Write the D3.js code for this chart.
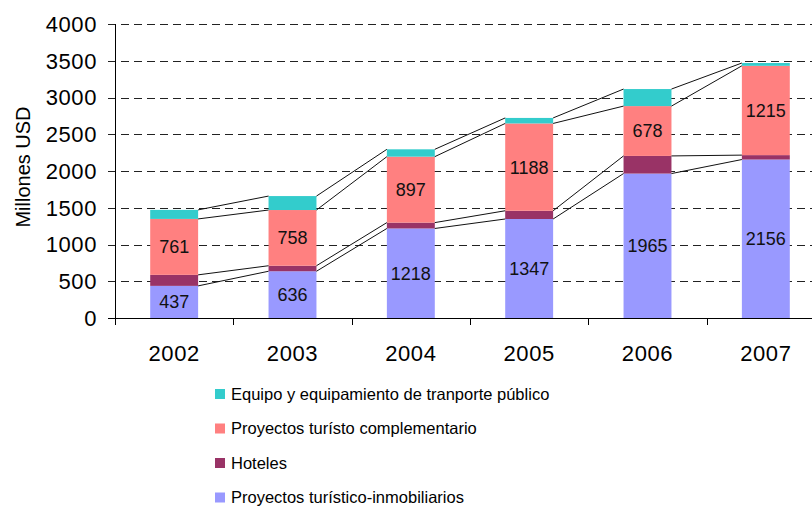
<!DOCTYPE html>
<html>
<head>
<meta charset="utf-8">
<script src="https://cdn.jsdelivr.net/npm/d3@7"></script>
<style>
  body { margin: 0; background: #fff; }
  svg { display: block; font-family: "Liberation Sans", Arial, sans-serif; }
</style>
</head>
<body>
<svg id="chart"></svg>
<script>
var years = ["2002", "2003", "2004", "2005", "2006", "2007"];
var inmobiliarios = [437, 636, 1218, 1347, 1965, 2156];
var hoteles = [150, 75, 80, 112, 240, 60];
var complementario = [761, 758, 897, 1188, 678, 1215];
var transporte = [123, 190, 100, 75, 232, 38];
var yTicks = [0, 500, 1000, 1500, 2000, 2500, 3000, 3500, 4000];

var seriesNames = [
  "Proyectos turístico-inmobiliarios",
  "Hoteles",
  "Proyectos turísto complementario",
  "Equipo y equipamiento de tranporte público"
];
var seriesColors = ["#9999ff", "#993366", "#ff8080", "#33cccc"];
var seriesLabels = [true, false, true, false];

var width = 812, height = 506;
var svg = d3.select("#chart").attr("width", width).attr("height", height);

var x = d3.scaleBand().domain(years).range([115, 825]).padding(0);
var y = d3.scaleLinear().domain([0, 4000]).range([318, 24]);
var barW = x.bandwidth() * 0.405;

// stack the four series bottom to top
var table = years.map(function(yr, i) {
  return { year: yr, s0: inmobiliarios[i], s1: hoteles[i], s2: complementario[i], s3: transporte[i] };
});
var stack = d3.stack().keys(["s0", "s1", "s2", "s3"]);
var layers = stack(table);

// gridlines
svg.append("g")
  .selectAll("line")
  .data(yTicks.filter(function(t) { return t > 0; }))
  .enter().append("line")
  .attr("x1", 108).attr("x2", width)
  .attr("y1", function(d) { return Math.round(y(d)) + 0.5; })
  .attr("y2", function(d) { return Math.round(y(d)) + 0.5; })
  .attr("stroke", "#222")
  .attr("stroke-dasharray", "8,5");

// bars
var layer = svg.append("g").selectAll("g")
  .data(layers)
  .enter().append("g")
  .attr("fill", function(d, i) { return seriesColors[i]; });

layer.selectAll("rect")
  .data(function(d) { return d; })
  .enter().append("rect")
  .attr("x", function(d) { return x(d.data.year) + (x.bandwidth() - barW) / 2; })
  .attr("width", barW)
  .attr("y", function(d) { return y(d[1]); })
  .attr("height", function(d) { return y(d[0]) - y(d[1]); });

// series lines between bars
var links = [];
layers.forEach(function(L) {
  for (var i = 0; i < L.length - 1; i++) {
    links.push({ a: L[i], b: L[i + 1] });
  }
});
svg.append("g")
  .selectAll("line")
  .data(links)
  .enter().append("line")
  .attr("x1", function(d) { return x(d.a.data.year) + (x.bandwidth() + barW) / 2; })
  .attr("y1", function(d) { return y(d.a[1]); })
  .attr("x2", function(d) { return x(d.b.data.year) + (x.bandwidth() - barW) / 2; })
  .attr("y2", function(d) { return y(d.b[1]); })
  .attr("stroke", "#111")
  .attr("stroke-width", 1);

// data labels
layers.forEach(function(L, k) {
  if (!seriesLabels[k]) return;
  svg.append("g").selectAll("text")
    .data(L)
    .enter().append("text")
    .attr("x", function(d) { return x(d.data.year) + x.bandwidth() / 2; })
    .attr("y", function(d) { return (y(d[0]) + y(d[1])) / 2; })
    .attr("dy", "0.36em")
    .attr("text-anchor", "middle")
    .attr("font-size", "18px")
    .attr("fill", "#111")
    .text(function(d) { return d[1] - d[0]; });
});

// axes
svg.append("line")
  .attr("x1", 115.5).attr("x2", 115.5)
  .attr("y1", y(4000)).attr("y2", y(0))
  .attr("stroke", "#000");
svg.append("line")
  .attr("x1", 108).attr("x2", width)
  .attr("y1", y(0) + 0.5).attr("y2", y(0) + 0.5)
  .attr("stroke", "#000");

svg.append("g").selectAll("line")
  .data(years)
  .enter().append("line")
  .attr("x1", function(d) { return Math.round(x(d)) + 0.5; })
  .attr("x2", function(d) { return Math.round(x(d)) + 0.5; })
  .attr("y1", y(0)).attr("y2", y(0) + 7)
  .attr("stroke", "#000");

svg.append("g").selectAll("text")
  .data(yTicks)
  .enter().append("text")
  .attr("x", 97)
  .attr("y", function(d) { return y(d); })
  .attr("dy", "0.36em")
  .attr("text-anchor", "end")
  .attr("font-size", "22px")
  .attr("letter-spacing", "0.6px")
  .attr("fill", "#000")
  .text(function(d) { return d; });

svg.append("g").selectAll("text")
  .data(years)
  .enter().append("text")
  .attr("x", function(d) { return x(d) + x.bandwidth() / 2; })
  .attr("y", 361)
  .attr("text-anchor", "middle")
  .attr("font-size", "22px")
  .attr("letter-spacing", "0.6px")
  .attr("fill", "#000")
  .text(function(d) { return d; });

svg.append("text")
  .attr("transform", "translate(30,167) rotate(-90)")
  .attr("text-anchor", "middle")
  .attr("font-size", "20px")
  .attr("fill", "#000")
  .text("Millones USD");

// legend, top entry is the top series
var legend = svg.append("g").selectAll("g")
  .data(d3.range(4).reverse())
  .enter().append("g")
  .attr("transform", function(d, i) { return "translate(215," + (394 + i * 34.5) + ")"; });
legend.append("rect")
  .attr("x", 0).attr("y", -5)
  .attr("width", 10).attr("height", 10)
  .attr("fill", function(d) { return seriesColors[d]; });
legend.append("text")
  .attr("x", 16)
  .attr("dy", "0.36em")
  .attr("font-size", "16.5px")
  .attr("fill", "#000")
  .text(function(d) { return seriesNames[d]; });
</script>
</body>
</html>
